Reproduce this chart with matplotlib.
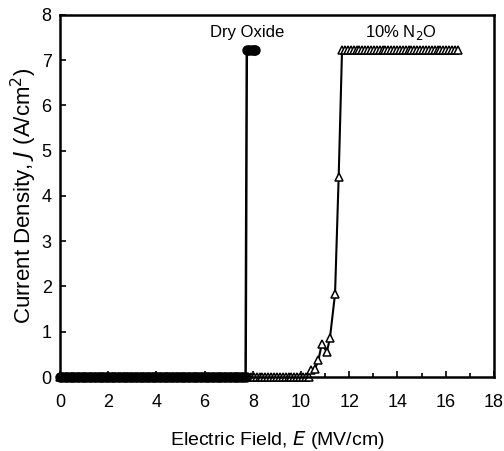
import numpy as np
import matplotlib
matplotlib.use("Agg")
import matplotlib.pyplot as plt

plt.rcParams['font.family'] = ['Liberation Sans', 'DejaVu Sans']

# Dry oxide: flat at ~0 until breakdown at 7.75 MV/cm, then compliance
dry_E_low = np.round(np.arange(0.0, 7.76, 0.1), 2)
dry_J_low = np.zeros(len(dry_E_low))
dry_E_high = [7.75, 7.85, 7.95, 8.05, 8.1]
dry_J_high = [7.23, 7.23, 7.23, 7.23, 7.23]

# 10% N2O: flat, soft rise above 10 MV/cm, compliance above 11.6 MV/cm
n2o_E_low = list(np.round(np.arange(0.0, 10.35, 0.12), 2))
n2o_J_low = [0.0] * len(n2o_E_low)
n2o_E_rise = [10.4, 10.58, 10.72, 10.86, 11.07, 11.2, 11.41, 11.56]
n2o_J_rise = [0.15, 0.18, 0.37, 0.74, 0.55, 0.87, 1.84, 4.42]
n2o_E_high = list(np.round(np.arange(11.7, 16.55, 0.12), 2))
n2o_J_high = [7.23] * len(n2o_E_high)

n2o_E = n2o_E_low + n2o_E_rise + n2o_E_high
n2o_J = n2o_J_low + n2o_J_rise + n2o_J_high
dry_E = list(dry_E_low) + dry_E_high
dry_J = list(dry_J_low) + dry_J_high

fig = plt.figure(figsize=(5.04, 4.51), dpi=100)
ax = fig.add_axes([0.119, 0.164, 0.861, 0.803])

ax.plot(n2o_E, n2o_J, color='black', lw=1.5, marker='^', ms=6,
        mfc='white', mec='black', mew=1.1, clip_on=False, zorder=2)
ax.plot(dry_E, dry_J, color='black', lw=1.8, marker='o', ms=6.5,
        mfc='black', mec='black', clip_on=False, zorder=3)

ax.text(7.75, 7.62, 'Dry Oxide', ha='center', va='center', fontsize=12)
ax.text(14.15, 7.62, '10% N$_2$O', ha='center', va='center', fontsize=12)

ax.set_xlim(0, 18)
ax.set_ylim(0, 8)
ax.set_xticks(range(0, 19, 2))
ax.set_xticks(range(1, 18, 2), minor=True)
ax.set_yticks(range(0, 9))
ax.tick_params(direction='in', length=4, width=1.2, labelsize=13)
ax.tick_params(axis='x', pad=12)
ax.tick_params(axis='y', pad=6)
ax.tick_params(which='minor', direction='in', length=3, width=1.2)
for s in ax.spines.values():
    s.set_linewidth(1.8)

ax.set_xlabel('Electric Field, $\\mathit{E}$ (MV/cm)', fontsize=14, labelpad=13)
ax.set_ylabel('Current Density, $\\mathit{J}$ (A/cm$^{2}$)', fontsize=16, labelpad=2)

fig.savefig('out.png', dpi=100)
